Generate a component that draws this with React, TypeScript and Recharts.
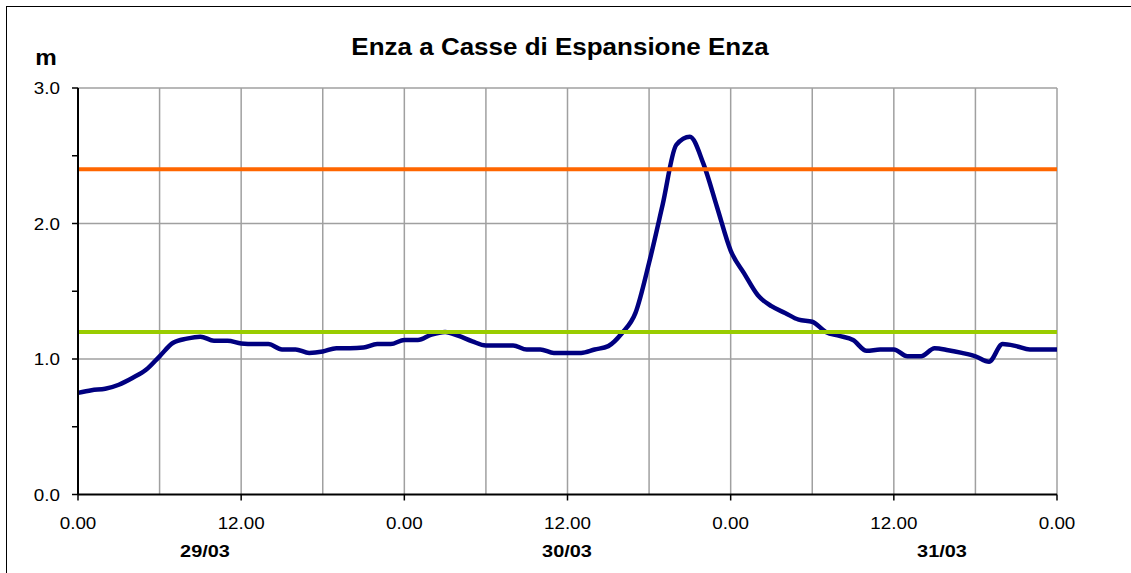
import { LineChart, Line, XAxis, YAxis, CartesianGrid, ReferenceLine } from 'recharts';

// livello idrometrico orario (m), 29/03 00:00 -> 01/04 00:00
const LEVEL = [
  0.75, 0.77, 0.78, 0.81, 0.86, 0.92, 1.02, 1.12, 1.15, 1.165, 1.135, 1.135,
  1.115, 1.11, 1.11, 1.07, 1.07, 1.045, 1.055, 1.08, 1.08, 1.085, 1.11, 1.11,
  1.14, 1.14, 1.18, 1.2, 1.17, 1.13, 1.1, 1.1, 1.1, 1.07, 1.07, 1.045,
  1.045, 1.045, 1.07, 1.095, 1.19, 1.34, 1.71, 2.14, 2.58, 2.64, 2.44, 2.12,
  1.8, 1.63, 1.47, 1.39, 1.34, 1.29, 1.275, 1.2, 1.17, 1.14, 1.06, 1.07,
  1.07, 1.02, 1.02, 1.08, 1.065, 1.045, 1.02, 0.98, 1.11, 1.095, 1.07, 1.07,
  1.07,
];

const X_TICKS = [0, 12, 24, 36, 48, 60, 72];
const X_GRID = [6, 12, 18, 24, 30, 36, 42, 48, 54, 60, 66, 72];
const Y_TICKS = [0, 0.5, 1, 1.5, 2, 2.5, 3];
const Y_GRID = [1, 2, 3];
const THRESHOLDS = [
  { value: 2.4, color: '#FF6600' },
  { value: 1.2, color: '#99CC00' },
];
const DAYS = [
  { label: '29/03', x: 205 },
  { label: '30/03', x: 567 },
  { label: '31/03', x: 942 },
];

const FONT = '"Liberation Sans", Arial, sans-serif';
const STRETCH = 1.14;

const data = LEVEL.map((v, i) => ({ h: i, v }));

function fmtHour(h: number) {
  return `${h % 24}.00`;
}

function XTick({ x, y, payload }: any) {
  return (
    <text
      transform={`translate(${x},${y}) scale(${STRETCH},1)`}
      textAnchor="middle"
      dy={19}
      fontFamily={FONT}
      fontSize={16.5}
      fill="#000"
    >
      {fmtHour(payload.value)}
    </text>
  );
}

function YTick({ x, y, payload }: any) {
  if (payload.value % 1 !== 0) return null;
  return (
    <text
      transform={`translate(${x},${y}) scale(${STRETCH},1)`}
      textAnchor="end"
      dy={6}
      fontFamily={FONT}
      fontSize={16.5}
      fill="#000"
    >
      {payload.value.toFixed(1)}
    </text>
  );
}

export default function App() {
  return (
    <div style={{ position: 'absolute', left: 0, top: 0, width: 1131, height: 573, background: '#fff', overflow: 'hidden' }}>
      <div
        style={{
          position: 'absolute',
          left: 6,
          top: 6,
          width: 1200,
          height: 1200,
          borderLeft: '1.5px solid #000',
          borderTop: '1.5px solid #000',
        }}
      />
      <LineChart
        width={1131}
        height={573}
        data={data}
        margin={{ top: 88, right: 74, bottom: 38.5, left: 0 }}
        style={{ position: 'absolute', left: 0, top: 0 }}
      >
        <CartesianGrid
          stroke="#a0a0a0"
          strokeWidth={1.5}
          verticalValues={X_GRID}
          horizontalValues={Y_GRID}
        />
        <XAxis
          type="number"
          dataKey="h"
          domain={[0, 72]}
          ticks={X_TICKS}
          height={40}
          axisLine={{ stroke: '#000', strokeWidth: 2 }}
          tickLine={{ stroke: '#000', strokeWidth: 1.5 }}
          tickSize={6}
          tickMargin={10}
          tick={<XTick />}
          interval={0}
        />
        <YAxis
          type="number"
          domain={[0, 3]}
          ticks={Y_TICKS}
          width={78}
          axisLine={{ stroke: '#000', strokeWidth: 2 }}
          tickLine={{ stroke: '#000', strokeWidth: 1.5 }}
          tickSize={6}
          tickMargin={12}
          tick={<YTick />}
          interval={0}
        />
        <Line
          type="monotone"
          dataKey="v"
          stroke="#000080"
          strokeWidth={4.5}
          strokeLinejoin="round"
          dot={false}
          isAnimationActive={false}
        />
        {THRESHOLDS.map((t) => (
          <ReferenceLine key={t.value} y={t.value} stroke={t.color} strokeWidth={4} />
        ))}
      </LineChart>
      <svg width={1131} height={573} style={{ position: 'absolute', left: 0, top: 0, pointerEvents: 'none' }}>
        <text
          transform={`translate(560,55) scale(1.13,1)`}
          textAnchor="middle"
          fontFamily={FONT}
          fontWeight="bold"
          fontSize={23}
          fill="#000"
        >
          Enza a Casse di Espansione Enza
        </text>
        <text
          transform={`translate(46,65) scale(1.1,1)`}
          textAnchor="middle"
          fontFamily={FONT}
          fontWeight="bold"
          fontSize={22}
          fill="#000"
        >
          m
        </text>
        {DAYS.map((d) => (
          <text
            key={d.label}
            transform={`translate(${d.x},557) scale(1.17,1)`}
            textAnchor="middle"
            fontFamily={FONT}
            fontWeight="bold"
            fontSize={17}
            fill="#000"
          >
            {d.label}
          </text>
        ))}
      </svg>
    </div>
  );
}
